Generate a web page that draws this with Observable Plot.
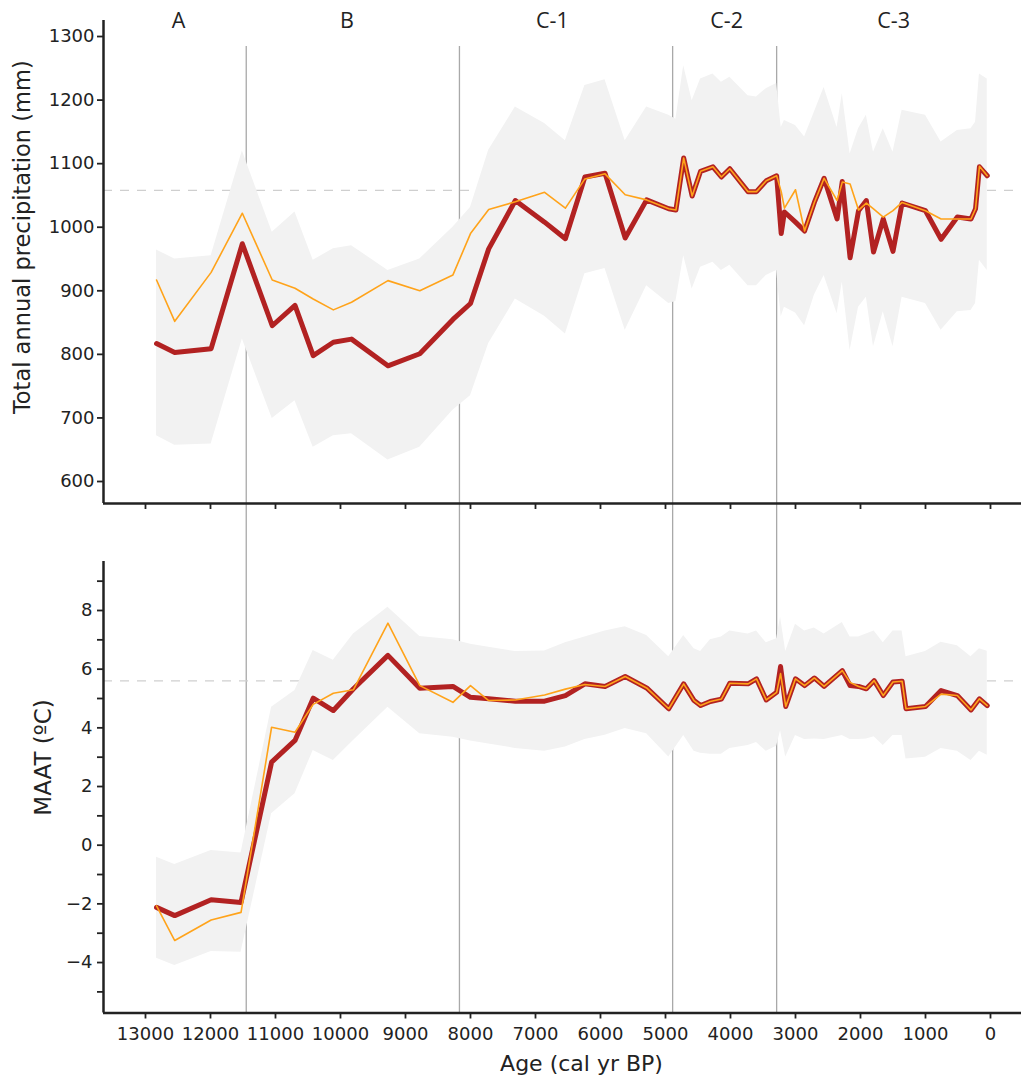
<!DOCTYPE html>
<html>
<head>
<meta charset="utf-8">
<script src="https://cdn.jsdelivr.net/npm/d3@7"></script>
<script src="https://cdn.jsdelivr.net/npm/@observablehq/plot@0.6"></script>
<style>
  body { margin: 0; background: #fff; }
  #chart { position: relative; width: 1021px; height: 1079px; overflow: hidden; background: #fff; }
  #chart svg { position: absolute; left: 0; }
  #chart g[aria-label="x-axis"] line, #chart g[aria-label="y-axis"] line,
  #chart g[aria-label="x-axis tick"] path, #chart g[aria-label="y-axis tick"] path { stroke-width: 1.8; }
</style>
</head>
<body>
<div id="chart"></div>
<script>
// ---- Zones ----
const zoneBounds = [11450, 8170, 4890, 3290];
const zoneLabels = ["A", "B", "C-1", "C-2", "C-3"];
const zoneLabelAge = [12490, 9900, 6740, 4060, 1490];

// ---- Axis ticks ----
const xTicks = [13000, 12000, 11000, 10000, 9000, 8000, 7000, 6000, 5000, 4000, 3000, 2000, 1000, 0];
const precipTicks = [600, 700, 800, 900, 1000, 1100, 1200, 1300];
const maatTicks = [-5, -4, -3, -2, -1, 0, 1, 2, 3, 4, 5, 6, 7, 8, 9];

// ---- Reference means (dashed lines) ----
const precipMean = [1058];
const maatMean = [5.6];

// ---- Total annual precipitation (mm) ----
const precipAge = [12830,12550,11990,11510,11050,10700,10420,10110,9830,9270,
  8780,8270,8000,7720,7310,6860,6540,6240,5930,5620,
  5290,4950,4840,4720,4590,4460,4270,4140,4010,3730,
  3600,3450,3290,3220,3170,3000,2860,2710,2560,2360,
  2280,2160,2030,1910,1800,1650,1500,1360,1000,760,
  510,300,230,170,50];
const precipRed = [817,803,809,974,845,877,798,819,824,782,
  801,855,880,966,1042,1008,982,1079,1085,983,
  1043,1029,1027,1109,1049,1088,1095,1079,1092,1056,
  1056,1073,1081,990,1024,1008,994,1039,1077,1013,
  1072,952,1026,1042,961,1013,962,1038,1026,981,
  1016,1013,1029,1095,1081];
const precipOrange = [917,852,929,1022,917,904,887,870,882,916,
  900,925,990,1028,1040,1055,1030,1076,1084,1051,
  1043,1029,1027,1109,1049,1088,1095,1079,1092,1056,
  1056,1073,1081,1056,1030,1059,994,1039,1077,1042,
  1071,1068,1027,1038,1029,1016,1026,1039,1026,1013,
  1013,1013,1029,1096,1081];
const precipLo = [672,657,659,824,699,727,654,672,675,634,
  654,712,735,817,887,860,832,927,935,838,
  908,880,883,955,903,937,945,932,940,908,
  908,924,932,859,874,865,845,893,924,864,
  914,806,874,890,812,867,812,890,880,838,
  867,869,880,948,932];
const precipHi = [964,950,955,1120,992,1024,948,966,971,932,
  950,1000,1031,1121,1189,1163,1136,1223,1232,1136,
  1189,1176,1170,1254,1199,1233,1241,1228,1236,1207,
  1205,1218,1226,1157,1168,1160,1142,1181,1220,1157,
  1210,1115,1155,1176,1118,1155,1118,1184,1176,1134,
  1152,1155,1165,1241,1233];

// ---- MAAT (ºC) ----
const maatAge = [12830,12550,11990,11530,11060,10700,10420,10110,9800,9270,
  8780,8270,8000,7720,7310,6860,6540,6240,5930,5620,
  5290,4950,4720,4560,4460,4310,4140,4010,3730,3600,
  3450,3290,3230,3150,3000,2860,2710,2560,2280,2160,
  2030,1910,1790,1650,1500,1360,1300,1000,760,510,
  300,170,50];
const maatRed = [-2.12,-2.40,-1.86,-1.95,2.83,3.57,5.01,4.59,5.33,6.47,
  5.35,5.41,5.04,4.99,4.91,4.91,5.10,5.50,5.41,5.75,
  5.36,4.65,5.50,4.93,4.76,4.90,4.98,5.52,5.50,5.67,
  4.95,5.21,6.09,4.73,5.67,5.44,5.70,5.41,5.95,5.44,
  5.41,5.33,5.61,5.10,5.56,5.59,4.65,4.73,5.27,5.10,
  4.61,4.99,4.76];
const maatOrange = [-2.07,-3.25,-2.55,-2.29,4.02,3.85,4.80,5.18,5.30,7.57,
  5.44,4.87,5.44,4.93,4.95,5.12,5.32,5.48,5.41,5.75,
  5.36,4.65,5.50,4.93,4.76,4.90,4.98,5.52,5.50,5.67,
  4.95,5.21,5.85,4.73,5.67,5.44,5.70,5.41,5.95,5.55,
  5.41,5.33,5.61,5.10,5.56,5.59,4.65,4.73,5.15,5.10,
  4.61,4.99,4.76];
const maatLo = [-3.85,-4.10,-3.62,-3.65,1.07,1.75,3.23,2.89,3.57,4.70,
  3.80,3.68,3.55,3.45,3.30,3.20,3.35,3.60,3.75,3.98,
  3.80,3.01,3.74,3.20,3.13,3.10,3.10,3.30,3.40,3.50,
  3.20,3.37,3.90,3.01,3.74,3.60,3.62,3.60,3.74,3.60,
  3.60,3.62,3.70,3.40,3.74,3.74,2.94,3.00,3.30,3.20,
  2.89,3.20,3.07];
const maatHi = [-0.41,-0.66,-0.18,-0.27,4.70,5.27,6.64,6.30,7.20,8.11,
  7.11,7.00,6.85,6.75,6.60,6.62,6.90,7.10,7.30,7.45,
  7.15,6.42,7.15,6.70,6.60,7.00,7.10,7.30,7.20,7.30,
  6.90,7.04,7.77,6.60,7.53,7.30,7.40,7.20,7.59,7.10,
  7.10,7.20,7.30,6.90,7.30,7.30,6.42,6.60,6.92,6.80,
  6.42,6.70,6.61];

// ---- Build tables ----
const precipData = precipAge.map((age, i) => ({age, red: precipRed[i], orange: precipOrange[i], lo: precipLo[i], hi: precipHi[i]}));
const maatData = maatAge.map((age, i) => ({age, red: maatRed[i], orange: maatOrange[i], lo: maatLo[i], hi: maatHi[i]}));
const zoneLabelData = zoneLabels.map((label, i) => ({label, age: zoneLabelAge[i]}));

const X_DOMAIN = [13646, -477];
const P_DOMAIN = [565.4, 1325.2];
const T_DOMAIN = [-5.72, 9.67];

const RED = "#b22222";
const ORANGE = "#ffa31a";
const BAND = "#f2f2f2";
const ZONE = "#a9a9a9";
const DASH = "#cfcfcf";
const INK = "#222";

const common = {
  width: 1021,
  marginLeft: 103,
  marginRight: 0,
  style: {fontFamily: "'DejaVu Sans', sans-serif", fontSize: "18px", color: INK, background: "transparent"}
};

const fmt = d3.format("d");

const plotTop = Plot.plot({
  ...common,
  height: 520,
  marginTop: 20,
  marginBottom: 17,
  x: {domain: X_DOMAIN, ticks: xTicks, tickFormat: () => "", tickSize: 6, label: null},
  y: {domain: P_DOMAIN, ticks: precipTicks, tickSize: 6, tickPadding: 3, tickFormat: fmt, label: null},
  marks: [
    Plot.ruleX(zoneBounds, {x: d => d, stroke: ZONE, strokeWidth: 1.3, insetTop: 26, insetBottom: -17}),
    Plot.ruleY(precipMean, {y: d => d, stroke: DASH, strokeWidth: 1.2, strokeDasharray: "9,8"}),
    Plot.areaY(precipData, {x: "age", y1: "lo", y2: "hi", fill: BAND}),
    Plot.line(precipData, {x: "age", y: "red", stroke: RED, strokeWidth: 5}),
    Plot.line(precipData, {x: "age", y: "orange", stroke: ORANGE, strokeWidth: 1.6}),
    Plot.text(zoneLabelData, {x: "age", text: "label", frameAnchor: "top", lineAnchor: "middle", dy: 1,
      fontFamily: "'Open Sans', sans-serif", fontSize: 21.5, fill: INK}),
    Plot.ruleX([X_DOMAIN[0]], {x: d => d, stroke: INK, strokeWidth: 2.5}),
    Plot.ruleY([P_DOMAIN[0]], {y: d => d, stroke: INK, strokeWidth: 2.5}),
    Plot.text(["Total annual precipitation (mm)"], {text: d => d, frameAnchor: "left", rotate: -90,
      textAnchor: "middle", lineAnchor: "middle", dx: -80.5, dy: -24.8, fontSize: 22.5, fill: INK})
  ]
});

const plotBottom = Plot.plot({
  ...common,
  height: 559,
  marginTop: 41,
  marginBottom: 66.5,
  x: {domain: X_DOMAIN, ticks: xTicks, tickFormat: fmt, tickSize: 6, tickPadding: 8, label: null},
  y: {domain: T_DOMAIN, ticks: maatTicks, tickSize: 6, tickPadding: 5,
      tickFormat: d => (d % 2 === 0 ? fmt(d) : ""), label: null},
  marks: [
    Plot.ruleX(zoneBounds, {x: d => d, stroke: ZONE, strokeWidth: 1.3, insetTop: -41}),
    Plot.ruleY(maatMean, {y: d => d, stroke: DASH, strokeWidth: 1.2, strokeDasharray: "9,8"}),
    Plot.areaY(maatData, {x: "age", y1: "lo", y2: "hi", fill: BAND}),
    Plot.line(maatData, {x: "age", y: "red", stroke: RED, strokeWidth: 5}),
    Plot.line(maatData, {x: "age", y: "orange", stroke: ORANGE, strokeWidth: 1.6}),
    Plot.ruleX([X_DOMAIN[0]], {x: d => d, stroke: INK, strokeWidth: 2.5}),
    Plot.ruleY([T_DOMAIN[0]], {y: d => d, stroke: INK, strokeWidth: 2.5}),
    Plot.text(["MAAT (ºC)"], {text: d => d, frameAnchor: "left", rotate: -90,
      textAnchor: "middle", lineAnchor: "middle", dx: -60, dy: -29.75, fontSize: 23, fill: INK}),
    Plot.text(["Age (cal yr BP)"], {text: d => d, frameAnchor: "bottom",
      textAnchor: "middle", lineAnchor: "middle", dx: 19, dy: 50.5, fontSize: 22, fill: INK})
  ]
});

plotTop.style.top = "0px";
plotBottom.style.top = "520px";
const chart = document.getElementById("chart");
chart.appendChild(plotTop);
chart.appendChild(plotBottom);
</script>
</body>
</html>
